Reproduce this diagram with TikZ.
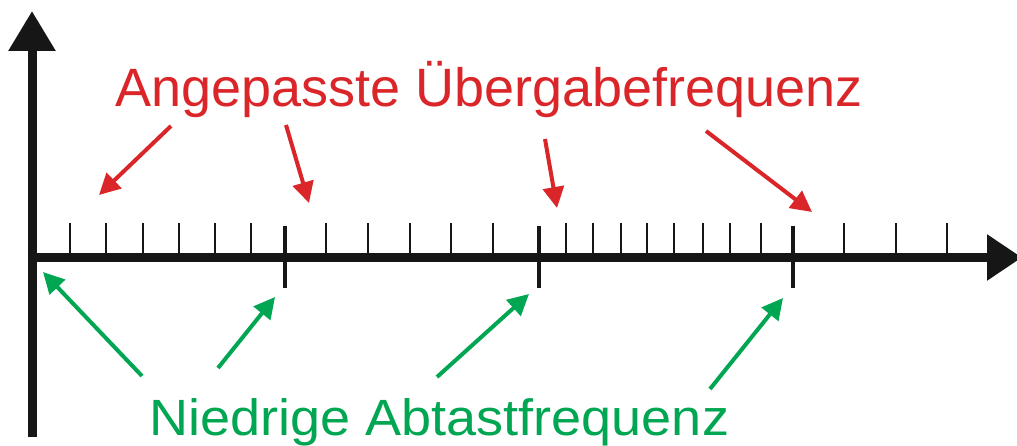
\documentclass[tikz,border=0pt]{standalone}
\usepackage{fontspec}
\setmainfont{Liberation Sans}
\usetikzlibrary{arrows.meta}
\definecolor{axisblack}{RGB}{22,22,22}
\definecolor{lblred}{RGB}{218,37,41}
\definecolor{lblgreen}{RGB}{0,166,81}
\begin{document}
\begin{tikzpicture}[x=1pt,y=-1pt,
  axisline/.style={draw=axisblack,line width=9pt},
  minortick/.style={draw=axisblack,line width=2.5pt},
  majortick/.style={draw=axisblack,line width=4pt},
  redarrow/.style={draw=lblred,line width=4pt,-{Triangle[length=21pt,width=21pt]}},
  greenarrow/.style={draw=lblgreen,line width=4pt,-{Triangle[length=21pt,width=21pt]}},
  lbl/.style={inner sep=0pt,anchor=base west}]
\useasboundingbox (0,0) rectangle (1017,446);
% axes
\coordinate (ybot) at (32,437);
\coordinate (ytop) at (32,11);
\coordinate (xleft) at (27.5,257.5);
\coordinate (xright) at (1022,257.5);
\draw[axisline,-{Triangle[length=40pt,width=45pt]}] (ybot) -- (ytop);
\draw[axisline,-{Triangle[length=35pt,width=44pt]}] (xleft) -- (xright);
% minor ticks
\foreach \x in {70,106,143,179,215,251,326,368,410,451,493,566,593,621,647,674,703,730,761,844,896,947}
  \draw[minortick] (\x,223) -- (\x,257);
% major ticks
\foreach \x in {285,539,793}
  \draw[majortick] (\x,226) -- (\x,288);
% labels
\node[lbl,text=lblred,font=\fontsize{54pt}{54pt}\selectfont] (rt) at (115,107) {Angepasste Übergabefrequenz};
\node[lbl,text=lblgreen,font=\fontsize{51pt}{51pt}\selectfont] (gt) at (149,435) {\scalebox{1.06}[1]{Niedrige Abtastfrequenz}};
% red arrows
\coordinate (r1s) at (171,126); \coordinate (r1e) at (99,195);
\coordinate (r2s) at (286,125); \coordinate (r2e) at (309,203);
\coordinate (r3s) at (545,139); \coordinate (r3e) at (557,208);
\coordinate (r4s) at (706,131); \coordinate (r4e) at (812,212);
\draw[redarrow] (r1s) -- (r1e);
\draw[redarrow] (r2s) -- (r2e);
\draw[redarrow] (r3s) -- (r3e);
\draw[redarrow] (r4s) -- (r4e);
% green arrows
\coordinate (g1s) at (142,376); \coordinate (g1e) at (43,272);
\coordinate (g2s) at (218,368); \coordinate (g2e) at (275,297);
\coordinate (g3s) at (437,377); \coordinate (g3e) at (529,294);
\coordinate (g4s) at (710,389); \coordinate (g4e) at (783,298);
\draw[greenarrow] (g1s) -- (g1e);
\draw[greenarrow] (g2s) -- (g2e);
\draw[greenarrow] (g3s) -- (g3e);
\draw[greenarrow] (g4s) -- (g4e);
\end{tikzpicture}
\end{document}
